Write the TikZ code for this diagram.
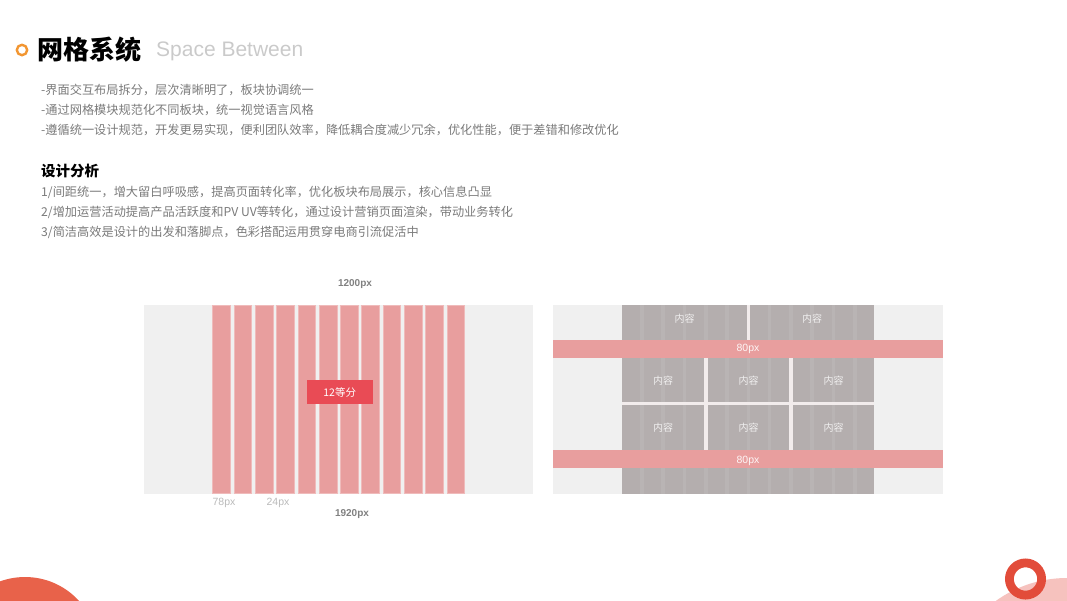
\documentclass[tikz,border=0pt]{standalone}
\usepackage{fontspec}
\setmainfont{Noto Sans CJK SC}
\newfontfamily\latinsans{Liberation Sans}
\usetikzlibrary{positioning}

\definecolor{ringorange}{RGB}{242,150,50}
\definecolor{subgray}{RGB}{202,202,202}
\definecolor{bodygray}{RGB}{122,122,122}
\definecolor{panelbg}{RGB}{240,240,240}
\definecolor{colpink}{RGB}{232,158,158}
\definecolor{tagred}{RGB}{233,75,85}
\definecolor{blockgray}{RGB}{180,174,174}
\definecolor{gapwhite}{RGB}{242,236,236}
\definecolor{decored}{RGB}{226,76,58}
\definecolor{decopink}{RGB}{246,194,190}
\definecolor{blobred}{RGB}{232,98,74}

\begin{document}
\begin{tikzpicture}[x=1pt,y=-1pt,every node/.style={inner sep=0pt}]
  \tikzset{
    body/.style={anchor=west,text=bodygray,font=\fontsize{12.2}{14}\selectfont},
    dimlabel/.style={text=black!50,font=\latinsans\fontsize{10}{12}\selectfont\bfseries},
    ticklabel/.style={text=black!27,font=\latinsans\fontsize{10.5}{12}\selectfont},
    cell/.style={text=white!82!blockgray,font=\fontsize{10}{12}\selectfont},
    bandlabel/.style={text=white!90!colpink,font=\latinsans\fontsize{10.5}{12}\selectfont},
    col/.style={fill=colpink,draw=colpink!70!white,line width=.7pt}
  }
  \useasboundingbox (0,0) rectangle (1067,600);
  \clip (0,0) rectangle (1067,600);
  % header
  \draw[ringorange,line width=2.4pt] (22,50) circle (5.2);
  \node[anchor=west,font=\fontsize{26}{30}\selectfont\bfseries] (title) at (37,50) {网格系统};
  \node[anchor=west,text=subgray,font=\latinsans\fontsize{21}{24}\selectfont] (sub) at (156,51) {Space Between};
  % intro lines
  \foreach \i/\txt in {1/{-界面交互布局拆分，层次清晰明了，板块协调统一},
                       2/{-通过网格模块规范化不同板块，统一视觉语言风格},
                       3/{-遵循统一设计规范，开发更易实现，便利团队效率，降低耦合度减少冗余，优化性能，便于差错和修改优化}}
    \node[body] (intro\i) at (41,70+20*\i) {\txt};
  \node[anchor=west,font=\fontsize{14.5}{17}\selectfont\bfseries] (analysis) at (41,171) {设计分析};
  \foreach \i/\txt in {1/{1/间距统一，增大留白呼吸感，提高页面转化率，优化板块布局展示，核心信息凸显},
                       2/{2/增加运营活动提高产品活跃度和PV UV等转化，通过设计营销页面渲染，带动业务转化},
                       3/{3/简洁高效是设计的出发和落脚点，色彩搭配运用贯穿电商引流促活中}}
    \node[body] (point\i) at (41,172+20*\i) {\txt};
  % left panel: 12 columns
  \fill[panelbg] (144,305) rectangle (533,494);
  \foreach \k in {0,...,11}
    \draw[col] ({212.7+21.3*\k},305.4) rectangle ++(17.7,188.3);
  \node[fill=tagred,minimum width=66pt,minimum height=24pt,text=white,
        font=\fontsize{10.5}{12}\selectfont] (tag) at (339.7,392.3) {12等分};
  \node[dimlabel] (wide) at (355,284) {1200px};
  \node[dimlabel] (full) at (352,514) {1920px};
  \node[ticklabel] (colw) at (224,503) {78px};
  \node[ticklabel] (gutw) at (278,503) {24px};
  % right panel: content blocks
  \fill[panelbg] (553,305) rectangle (943,494);
  \fill[blockgray] (622.3,305) rectangle (874,494);
  \foreach \k in {0,...,10}
    \fill[white,opacity=.08] ({622.3+17.7+21.3*\k},305) rectangle ++(3.6,189);
  \fill[gapwhite] (746.5,305) rectangle (749.8,340);
  \fill[gapwhite] (622.3,402.3) rectangle (874,405);
  \fill[gapwhite] (704,358) rectangle (707.6,449.5);
  \fill[gapwhite] (789.3,358) rectangle (793,449.5);
  \fill[colpink] (553,339.5) rectangle (943,358);
  \fill[colpink] (553,449.5) rectangle (943,468);
  \node[bandlabel] (band1) at (748,349) {80px};
  \node[bandlabel] (band2) at (748,461) {80px};
  \foreach \n/\x/\y in {c1/684.5/319,c2/812/319,c3/663/380.5,c4/748.5/380.5,c5/833.5/380.5,
                        c6/663/427.5,c7/748.5/427.5,c8/833.5/427.5}
    \node[cell] (\n) at (\x,\y) {内容};
  % corner decorations
  \fill[blobred] (25,650) circle (73);
  \fill[decopink] (1067,700) circle (122);
  \draw[decored,line width=8.8pt] (1025.5,579) circle (16.1);
\end{tikzpicture}
\end{document}
